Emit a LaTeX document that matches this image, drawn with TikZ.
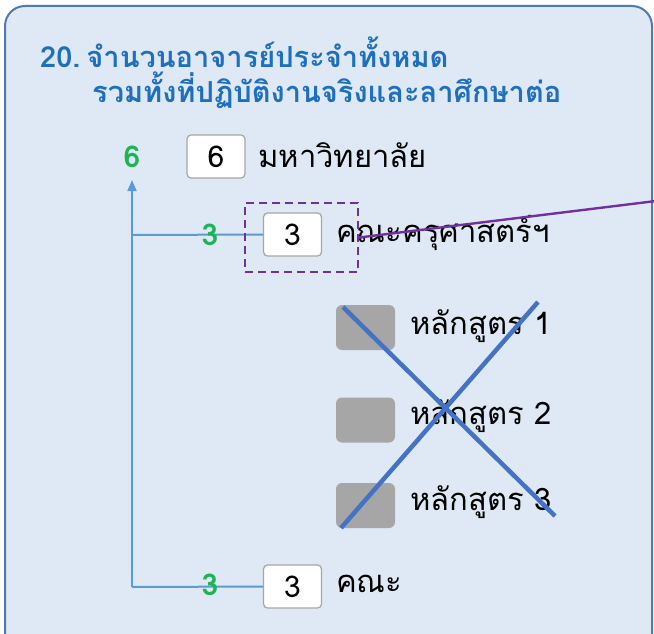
\documentclass[tikz,border=0pt]{standalone}
\usetikzlibrary{arrows.meta}
\usepackage{fontspec}
\setmainfont[Script=Thai]{Loma}
\definecolor{panelfill}{HTML}{DEE9F5}
\definecolor{panelline}{HTML}{4F7CB0}
\definecolor{titleblue}{HTML}{1F6FBF}
\definecolor{greennum}{HTML}{1DB455}
\definecolor{treeline}{HTML}{5B9BD5}
\definecolor{crossblue}{HTML}{4472C4}
\definecolor{purp}{HTML}{7030A0}
\tikzset{
  numbox/.style={draw=black!35, fill=white, rounded corners=4pt, line width=1.2pt, minimum width=58pt, minimum height=43pt, inner sep=0pt, font=\fontsize{30}{34}\selectfont},
  graybox/.style={fill=black!35, rounded corners=6pt, minimum width=59pt, minimum height=45pt, inner sep=0pt},
  lbl/.style={anchor=west, inner sep=0pt, font=\fontsize{31}{36}\selectfont},
  gnum/.style={text=greennum, font=\fontsize{30}{34}\selectfont\bfseries, inner sep=0pt},
  ttl/.style={anchor=west, text=titleblue, inner sep=0pt, font=\fontsize{29}{34}\selectfont\bfseries},
  tree/.style={draw=treeline, line width=2pt},
  crossln/.style={draw=crossblue, line width=4.5pt},
}
\begin{document}
\begin{tikzpicture}[x=1pt,y=-1pt]
\useasboundingbox (0,0) rectangle (654,634);
\begin{scope}
\clip (0,0) rectangle (654,634);
\fill[white] (0,0) rectangle (654,634);
\draw[panelline, fill=panelfill, line width=2pt, rounded corners=20pt] (5,6) rectangle (652,660);
\end{scope}
% title
\node[ttl] (t1) at (40,52) {20.\hspace{6pt}จำนวนอาจารย์ประจำทั้งหมด};
\node[ttl] (t2) at (92,90) {รวมทั้งที่ปฏิบัติงานจริงและลาศึกษาต่อ};
% top
\node[gnum] (g6) at (132,157) {6};
\node[numbox] (b6) at (216,156.5) {6};
\node[lbl] (l6) at (258,155) {มหาวิทยาลัย};
% tree
\coordinate (top) at (132,180);
\coordinate (bot) at (132,587);
\coordinate (mid) at (132,235);
\node[numbox] (b3a) at (292.5,234.5) {3};
\node[lbl] (l3a) at (336,233) {คณะครุศาสตร์ฯ};
\node[numbox] (b3b) at (292.5,586.5) {3};
\node[lbl] (l3b) at (336,584) {คณะ};
\draw[tree, -{Triangle[width=9pt,length=11pt]}] (bot) -- (top);
\draw[tree] (mid) -- (b3a.west);
\draw[tree] (bot) -- (b3b.west);
\node[gnum] (g3a) at (210,235) {3};
\node[gnum] (g3b) at (210,585) {3};
% dashed box
\node[draw=purp, dash pattern=on 8pt off 5pt, line width=2.2pt, minimum width=113pt, minimum height=69pt, inner sep=0pt] (dbox) at (301.5,237.5) {};
\coordinate (pend) at (656,201);
\draw[purp, line width=2.4pt] (dbox.east) -- (pend);
% courses
\node[graybox] (c1) at (365.5,327.5) {};
\node[graybox] (c2) at (365.5,420) {};
\node[graybox] (c3) at (365.5,505.5) {};
\node[lbl] (lc1) at (410,326) {หลักสูตร 1};
\node[lbl] (lc2) at (410,416) {หลักสูตร 2};
\node[lbl] (lc3) at (410,502) {หลักสูตร 3};
\coordinate (x1) at (343,307);
\coordinate (x2) at (555,516);
\coordinate (x3) at (538,302);
\coordinate (x4) at (341,528);
\draw[crossln] (x1) -- (x2);
\draw[crossln] (x3) -- (x4);
\end{tikzpicture}
\end{document}
